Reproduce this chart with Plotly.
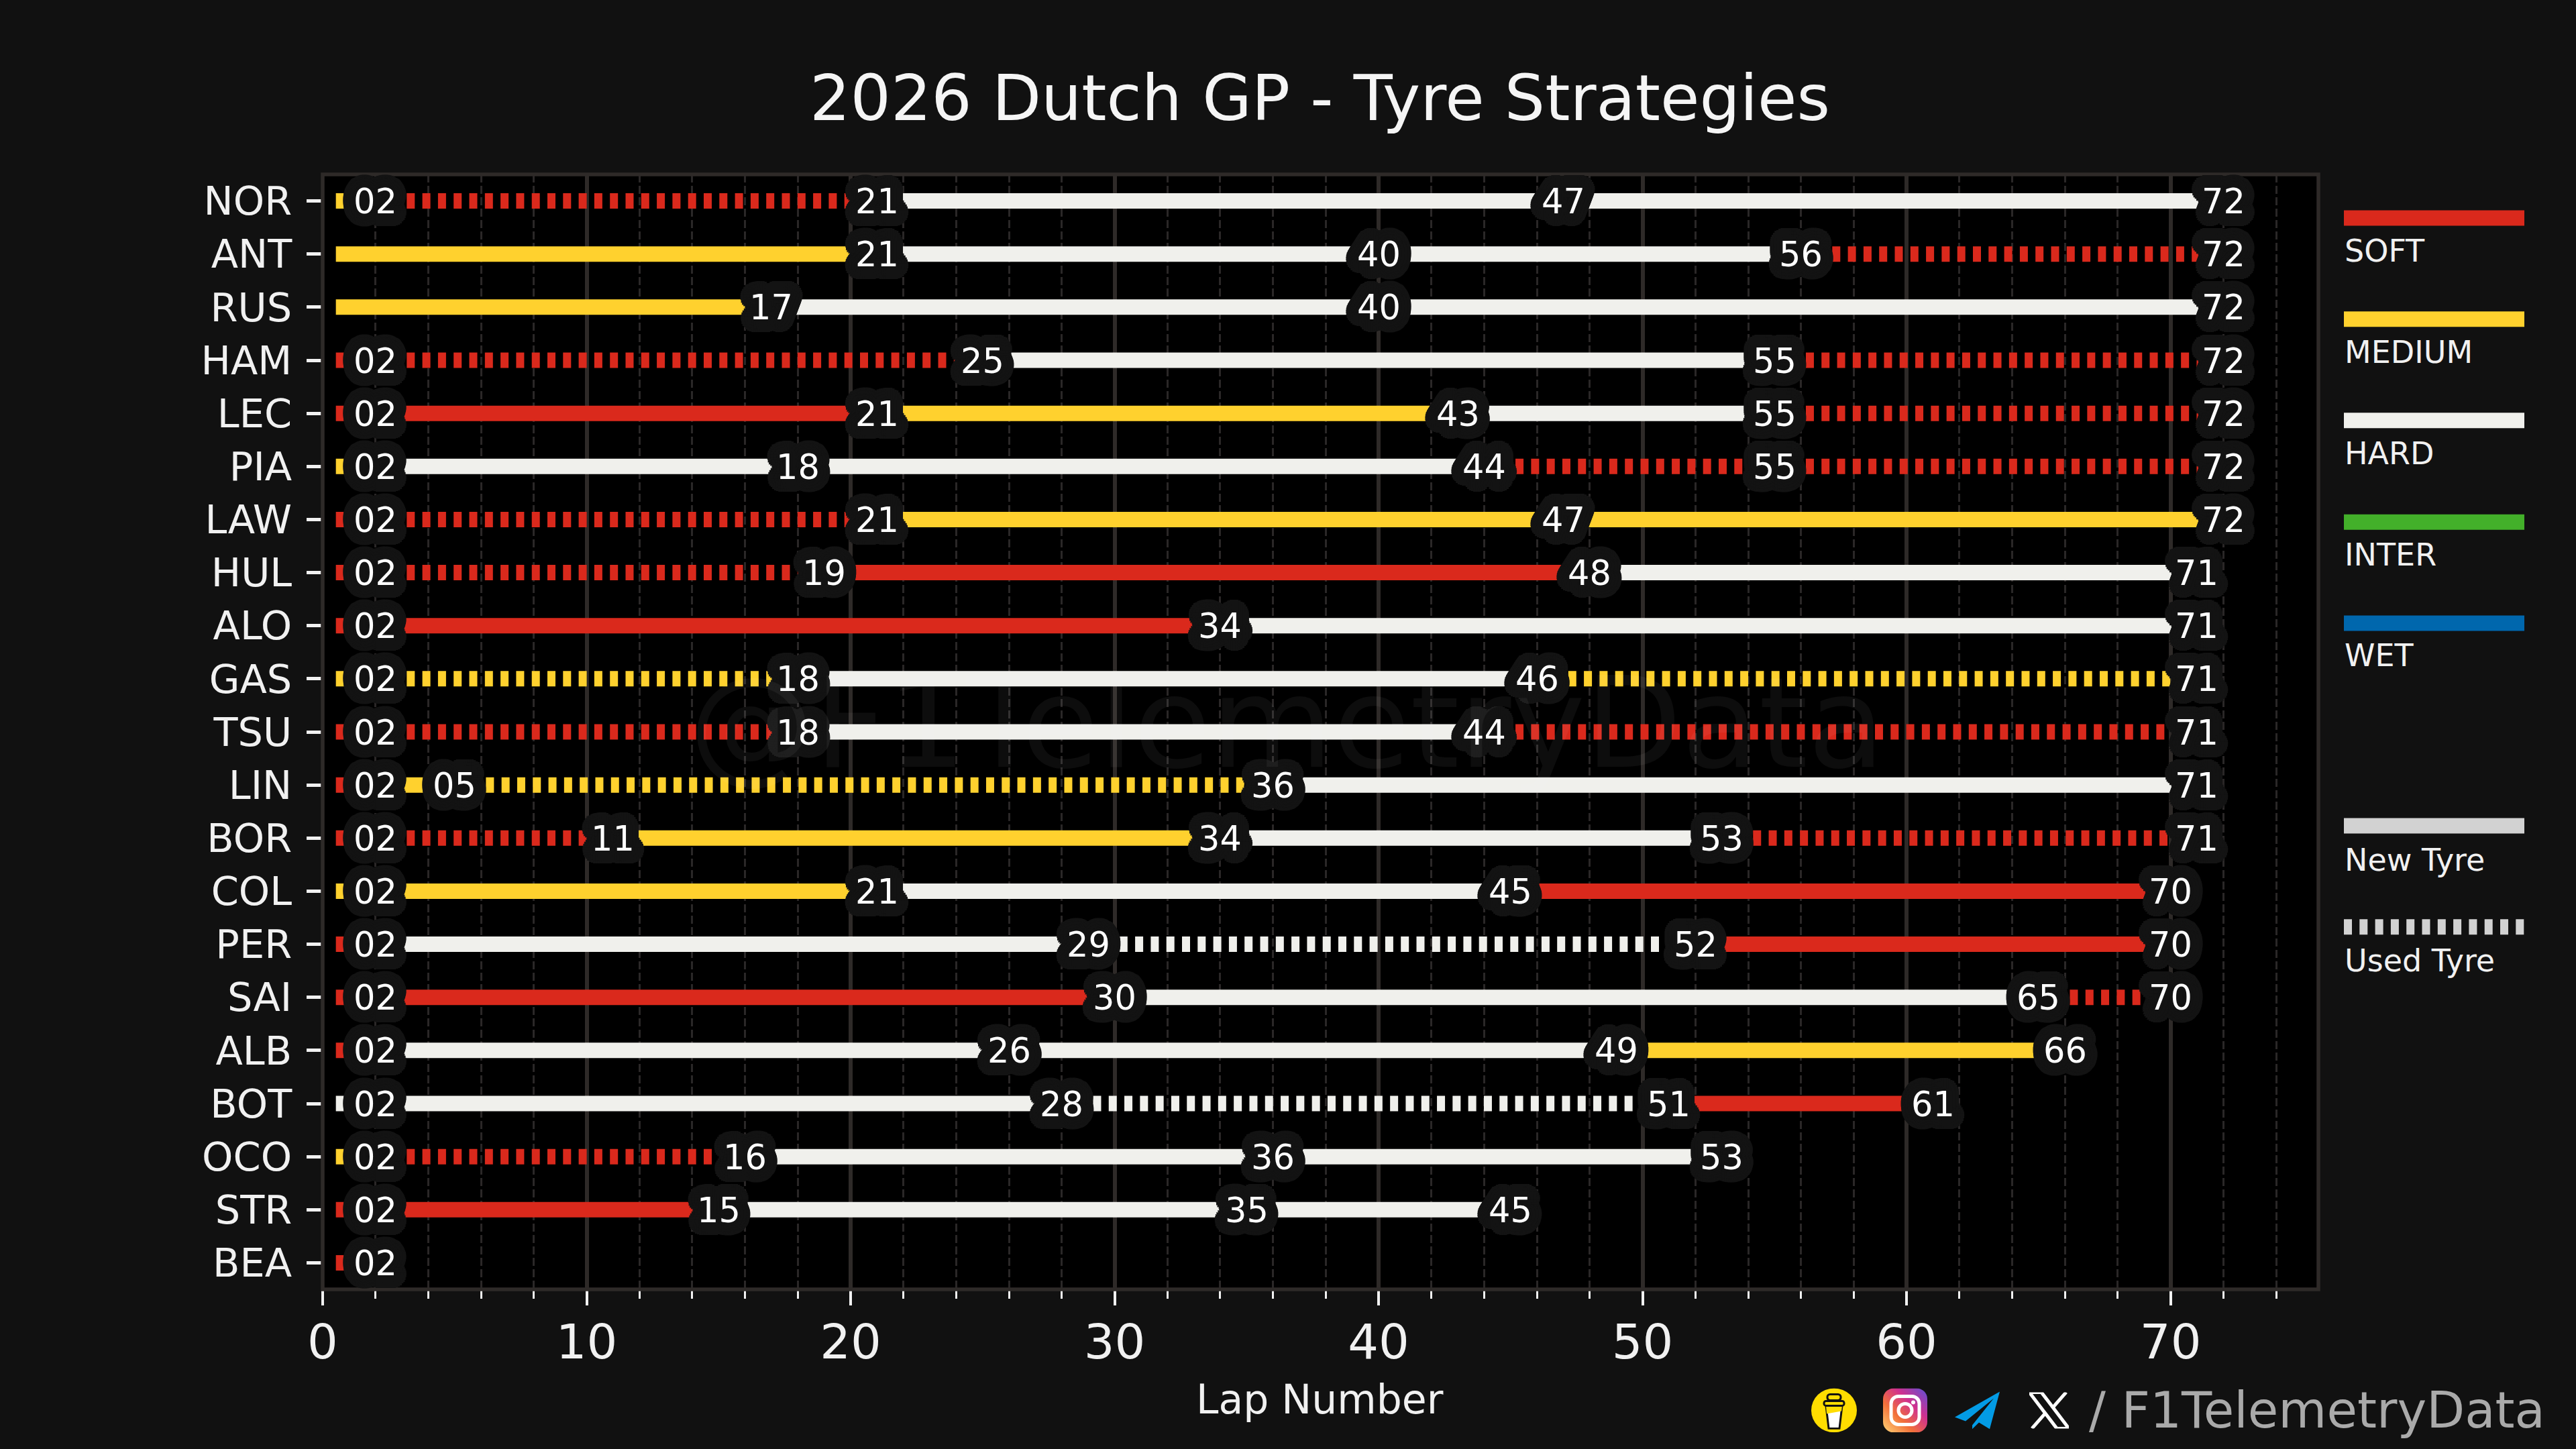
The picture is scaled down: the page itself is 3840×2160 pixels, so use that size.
import base64
import math
import plotly.graph_objects as go

drivers = ["NOR", "ANT", "RUS", "HAM", "LEC", "PIA", "LAW", "HUL", "ALO", "GAS", "TSU",
           "LIN", "BOR", "COL", "PER", "SAI", "ALB", "BOT", "OCO", "STR", "BEA"]

# lap at the end of each stint
stint_ends = [
    [2, 21, 47, 72],
    [21, 40, 56, 72],
    [17, 40, 72],
    [2, 25, 55, 72],
    [2, 21, 43, 55, 72],
    [2, 18, 44, 55, 72],
    [2, 21, 47, 72],
    [2, 19, 48, 71],
    [2, 34, 71],
    [2, 18, 46, 71],
    [2, 18, 44, 71],
    [2, 5, 36, 71],
    [2, 11, 34, 53, 71],
    [2, 21, 45, 70],
    [2, 29, 52, 70],
    [2, 30, 65, 70],
    [2, 26, 49, 66],
    [2, 28, 51, 61],
    [2, 16, 36, 53],
    [2, 15, 35, 45],
    [2],
]
compounds = [
    ["MEDIUM", "SOFT", "HARD", "HARD"],
    ["MEDIUM", "HARD", "HARD", "SOFT"],
    ["MEDIUM", "HARD", "HARD"],
    ["SOFT", "SOFT", "HARD", "SOFT"],
    ["SOFT", "SOFT", "MEDIUM", "HARD", "SOFT"],
    ["MEDIUM", "HARD", "HARD", "SOFT", "SOFT"],
    ["SOFT", "SOFT", "MEDIUM", "MEDIUM"],
    ["SOFT", "SOFT", "SOFT", "HARD"],
    ["SOFT", "SOFT", "HARD"],
    ["MEDIUM", "MEDIUM", "HARD", "MEDIUM"],
    ["SOFT", "SOFT", "HARD", "SOFT"],
    ["SOFT", "MEDIUM", "MEDIUM", "HARD"],
    ["SOFT", "SOFT", "MEDIUM", "HARD", "SOFT"],
    ["MEDIUM", "MEDIUM", "HARD", "SOFT"],
    ["SOFT", "HARD", "HARD", "SOFT"],
    ["SOFT", "SOFT", "HARD", "SOFT"],
    ["SOFT", "HARD", "HARD", "MEDIUM"],
    ["HARD", "HARD", "HARD", "SOFT"],
    ["MEDIUM", "SOFT", "HARD", "HARD"],
    ["SOFT", "SOFT", "HARD", "HARD"],
    ["SOFT"],
]
# 1 = used set, 0 = new set
used_sets = [
    [1, 1, 0, 0],
    [0, 0, 0, 1],
    [0, 0, 0],
    [1, 1, 0, 1],
    [1, 0, 0, 0, 1],
    [1, 0, 0, 1, 1],
    [1, 1, 0, 0],
    [1, 1, 0, 0],
    [1, 0, 0],
    [1, 1, 0, 1],
    [1, 1, 0, 1],
    [1, 0, 1, 0],
    [1, 1, 0, 0, 1],
    [1, 0, 0, 0],
    [1, 0, 1, 0],
    [1, 0, 0, 1],
    [1, 0, 0, 0],
    [1, 0, 1, 0],
    [1, 1, 0, 0],
    [1, 0, 0, 0],
    [1],
]
race_start = 0.5

tyre_colors = {"SOFT": "#DA291C", "MEDIUM": "#FFD12E", "HARD": "#F0F0EC",
               "INTER": "#43B02A", "WET": "#0067AD"}
legend_y = [324.5, 475.5, 626.5, 778, 929]
legend_text_y = [374, 525, 676, 827, 977]

FONT = "DejaVu Sans"
BG = "#111111"
SPINE = "#2E2A28"
DASH = "12px,11.3px"

W, H = 3840, 2160
L, R, T, B = 481, 3456, 259.5, 1922.5


def px(x):
    return (x - L) / (R - L)


def py(y):
    return (B - y) / (B - T)


def halo(radius, color):
    # text-shadow rings, gives the rounded stroke behind the lap labels
    parts = []
    for f, n in ((0.25, 12), (0.5, 16), (0.75, 24), (1.0, 36)):
        r = radius * f
        for i in range(n):
            a = 2 * math.pi * i / n
            parts.append(f"{r * math.cos(a):.1f}px {r * math.sin(a):.1f}px 0 {color}")
    return ", ".join(parts)


fig = go.Figure()

for name, ends, comps, used in zip(drivers, stint_ends, compounds, used_sets):
    start = race_start
    for end, comp, u in zip(ends, comps, used):
        fig.add_trace(go.Scatter(
            x=[start, end], y=[name, name], mode="lines",
            line=dict(color=tyre_colors[comp], width=23, dash=DASH if u and start > race_start else "solid"),
            hoverinfo="skip", showlegend=False))
        start = end

shapes = [dict(type="rect", xref="paper", yref="paper", x0=0, x1=1, y0=0, y1=1,
               line=dict(color=SPINE, width=5.5), layer="above")]
annotations = []

# lap labels go first so the watermark stays on top of them
label_shadow = halo(19, "#131313")
for name, ends in zip(drivers, stint_ends):
    for end in ends:
        annotations.append(dict(text=f"{end:02d}", x=end, y=name, xref="x", yref="y",
                                xanchor="center", yanchor="middle", yshift=-1, showarrow=False,
                                font=dict(family=FONT, size=51, color="white", shadow=label_shadow)))


def legend_text(label, y):
    annotations.append(dict(text=label, xref="paper", yref="paper", x=px(3493), y=py(y),
                            xanchor="left", yanchor="middle", showarrow=False,
                            font=dict(family=FONT, size=46, color="#F1F1F1")))


for (label, color), y, ty in zip(tyre_colors.items(), legend_y, legend_text_y):
    shapes.append(dict(type="line", xref="paper", yref="paper", x0=px(3494), x1=px(3763),
                       y0=py(y), y1=py(y), line=dict(color=color, width=23)))
    legend_text(label, ty)

shapes.append(dict(type="line", xref="paper", yref="paper", x0=px(3494), x1=px(3763),
                   y0=py(1231), y1=py(1231), line=dict(color="#D2D2D2", width=23)))
legend_text("New Tyre", 1282)
shapes.append(dict(type="line", xref="paper", yref="paper", x0=px(3494), x1=px(3763),
                   y0=py(1382), y1=py(1382), line=dict(color="#D2D2D2", width=23, dash=DASH)))
legend_text("Used Tyre", 1432)

# watermark
annotations.append(dict(text="@F1TelemetryData", xref="paper", yref="paper", x=px(1918), y=py(1078),
                        xanchor="center", yanchor="middle", showarrow=False,
                        font=dict(family=FONT, size=187, color="rgba(255,255,255,0.05)")))
# title
annotations.append(dict(text="2026 Dutch GP - Tyre Strategies", xref="paper", yref="paper",
                        x=px(1967), y=py(145), xanchor="center", yanchor="middle", showarrow=False,
                        font=dict(family=FONT, size=95, color="#F5F5F5")))
annotations.append(dict(text="Lap Number", xref="paper", yref="paper", x=px(1967), y=py(2087),
                        xanchor="center", yanchor="middle", showarrow=False,
                        font=dict(family=FONT, size=60, color="#F1F1F1")))
# footer handle
annotations.append(dict(text="/ F1TelemetryData", xref="paper", yref="paper", x=px(3112), y=py(2103),
                        xanchor="left", yanchor="middle", showarrow=False,
                        font=dict(family=FONT, size=74, color="#AAAAAA")))


def svg_uri(body, vw, vh):
    svg = f'<svg xmlns="http://www.w3.org/2000/svg" viewBox="0 0 {vw} {vh}">{body}</svg>'
    return "data:image/svg+xml;base64," + base64.b64encode(svg.encode()).decode()


cup = ('<ellipse cx="34" cy="33" rx="34" ry="33" fill="#FFDD00"/>'
       '<path d="M22 26 L46 26 L42 60 L26 60 Z" fill="#fff" stroke="#111" stroke-width="3"/>'
       '<path d="M22 26 L46 26 L45 34 L23 38 Z" fill="#FFDD00"/>'
       '<rect x="19" y="19" width="30" height="7" rx="3" fill="#FFDD00" stroke="#111" stroke-width="3"/>'
       '<rect x="24" y="9" width="20" height="9" rx="4" fill="#FFDD00" stroke="#111" stroke-width="3"/>')
insta = ('<defs><linearGradient id="g" x1="0" y1="1" x2="1" y2="0">'
         '<stop offset="0" stop-color="#FFD676"/><stop offset="0.35" stop-color="#F2703A"/>'
         '<stop offset="0.65" stop-color="#D0308F"/><stop offset="1" stop-color="#5B51D8"/></linearGradient></defs>'
         '<rect width="66" height="66" rx="16" fill="url(#g)"/>'
         '<rect x="12" y="12" width="42" height="42" rx="11" fill="none" stroke="#fff" stroke-width="5"/>'
         '<circle cx="33" cy="33" r="10" fill="none" stroke="#fff" stroke-width="5"/>'
         '<circle cx="45" cy="21" r="3" fill="#fff"/>')
plane = '<path d="M67 0 L0 38 L16 44 L58 10 L26 50 L26 56 L36 46 L52 56 Z" fill="#039BE5"/>'
x_logo = ('<path d="M0 0 L18 0 L59 54 L41 54 Z" fill="none" stroke="#fff" stroke-width="5"/>'
          '<path d="M55 0 L34 24 M4 54 L25 30" stroke="#fff" stroke-width="5"/>')

images = []
for body, x0, x1, y0, y1 in [(cup, 2700, 2768, 2070, 2136), (insta, 2807, 2873, 2070, 2136),
                             (plane, 2914, 2981, 2075, 2131), (x_logo, 3025, 3084, 2076, 2130)]:
    images.append(dict(source=svg_uri(body, x1 - x0, y1 - y0), xref="paper", yref="paper",
                       x=px(x0), y=py(y0), sizex=px(x1) - px(x0), sizey=py(y0) - py(y1),
                       xanchor="left", yanchor="top", sizing="stretch", layer="above"))

fig.update_layout(
    width=W, height=H, autosize=False,
    margin=dict(l=L, r=W - R, t=T, b=H - B, pad=0),
    paper_bgcolor=BG, plot_bgcolor="#000000",
    font=dict(family=FONT, color="#F1F1F1"),
    shapes=shapes, annotations=annotations, images=images,
    xaxis=dict(range=[0, 75.6], tickmode="linear", tick0=0, dtick=10, showline=False, zeroline=False,
               ticks="outside", ticklen=23, tickwidth=4, tickcolor="#F1F1F1",
               showgrid=True, gridcolor=SPINE, gridwidth=6,
               tickfont=dict(family=FONT, size=72, color="#F1F1F1"), ticklabelstandoff=-7,
               minor=dict(tickmode="linear", tick0=0, dtick=2, ticks="outside", ticklen=12.5, tickwidth=3,
                          tickcolor="#F1F1F1", showgrid=True, gridcolor="#2A2727", gridwidth=2.5,
                          griddash="12px,5px")),
    yaxis=dict(type="category", categoryorder="array", categoryarray=drivers, range=[20.5, -0.5],
               showline=False, zeroline=False, showgrid=False,
               ticks="outside", ticklen=23, tickwidth=5, tickcolor="#F1F1F1",
               tickfont=dict(family=FONT, size=59, color="#F1F1F1"), ticklabelstandoff=10),
)

fig.write_html("out.html", config={"displayModeBar": False}, post_script="document.body.style.margin='0';")
